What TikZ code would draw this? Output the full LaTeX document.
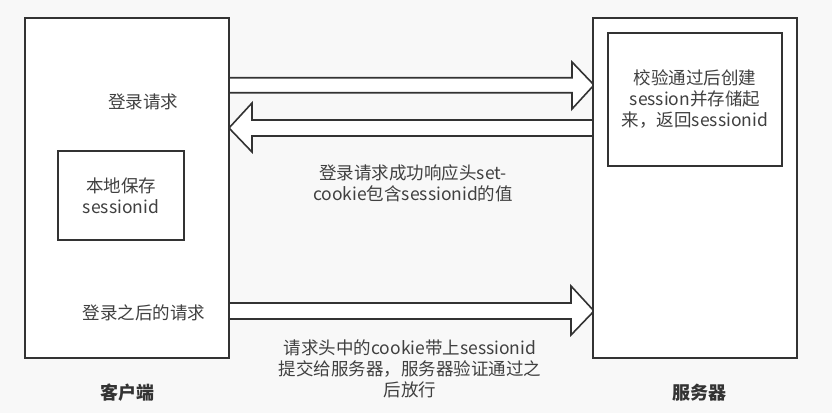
\documentclass[tikz,border=0pt]{standalone}
\usepackage{fontspec}
\setmainfont{Noto Sans CJK SC}
\definecolor{bg}{HTML}{F8F8F8}
\definecolor{ln}{HTML}{333333}
\definecolor{tx}{HTML}{404040}
\begin{document}
\begin{tikzpicture}[x=1pt,y=-1pt,
  box/.style={draw=ln,line width=2pt,fill=white,inner sep=0pt},
  fat/.style={draw=ln,line width=1.6pt,fill=white,line join=miter},
  lbl/.style={text=tx,font=\fontsize{17.5}{21}\selectfont,align=center,inner sep=0pt},
  ttl/.style={text=ln,font=\fontsize{18}{21}\selectfont\bfseries,inner sep=0pt}]
\fill[bg] (0,0) rectangle (832,413);
\useasboundingbox (0,0) rectangle (832,413);
% fat arrows (drawn first, boxes on top)
\coordinate (cx) at (229,0);
\coordinate (sx) at (593,0);
\draw[fat] (cx |- 0,77.7) -- (572,77.7) -- (572,62) -- (594,85) -- (572,109) -- (572,92.7) -- (cx |- 0,92.7);
\draw[fat] (sx |- 0,120) -- (252,120) -- (252,103) -- (229,128) -- (252,152) -- (252,136) -- (sx |- 0,136);
\draw[fat] (cx |- 0,303) -- (571,303) -- (571,286) -- (594,311) -- (571,335) -- (571,319) -- (cx |- 0,319);
% boxes
\node[box,minimum width=204pt,minimum height=340pt] (client) at (127,188) {};
\node[box,minimum width=204pt,minimum height=340pt] (server) at (695,188) {};
\node[box,minimum width=126pt,minimum height=89pt] (store) at (121,195.5) {};
\node[box,minimum width=174pt,minimum height=133pt] (check) at (695,99.5) {};
% labels
\node[lbl] (t1) at (143,102) {登录请求};
\node[lbl] (t2) at (store.center) {本地保存\\sessionid};
\node[lbl] (t3) at (144,313) {登录之后的请求};
\node[lbl] (t4) at (check.center) {校验通过后创建\\session并存储起\\来，返回sessionid};
\node[lbl] (t5) at (413,183.5) {登录请求成功响应头set-\\cookie包含sessionid的值};
\node[lbl] (t6) at (410,369) {请求头中的cookie带上sessionid\\提交给服务器，服务器验证通过之\\后放行};
\node[ttl] (c) at (127,393) {客户端};
\node[ttl] (s) at (699,393) {服务器};
\end{tikzpicture}
\end{document}
